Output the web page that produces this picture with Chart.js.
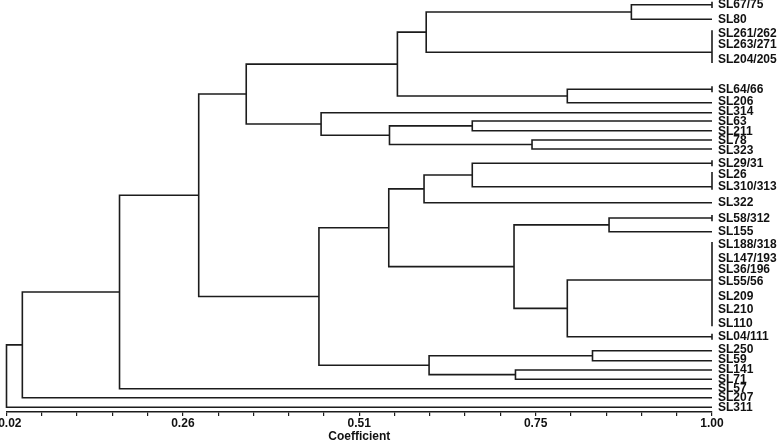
<!DOCTYPE html>
<html>
<head>
<meta charset="utf-8">
<script src="https://cdn.jsdelivr.net/npm/chart.js@4.4.1/dist/chart.umd.min.js"></script>
<style>
  html, body { margin: 0; padding: 0; background: #fff; }
  canvas { display: block; }
</style>
</head>
<body>
<canvas id="dendro" width="778" height="444"></canvas>
<script>
// Leaf labels, top to bottom, and the row each label sits on.
const leafLabels = ['SL67/75', 'SL80', 'SL261/262', 'SL263/271', 'SL204/205', 'SL64/66', 'SL206',
  'SL314', 'SL63', 'SL211', 'SL78', 'SL323', 'SL29/31', 'SL26', 'SL310/313', 'SL322', 'SL58/312',
  'SL155', 'SL188/318', 'SL147/193', 'SL36/196', 'SL55/56', 'SL209', 'SL210', 'SL110', 'SL04/111',
  'SL250', 'SL59', 'SL141', 'SL71', 'SL57', 'SL207', 'SL311'];
const leafRows = [0.5, 1.93, 3.33, 4.5, 6.0, 8.93, 10.2, 11.2, 12.15, 13.2, 14.1, 15.05, 16.33,
  17.5, 18.67, 20.3, 21.83, 23.17, 24.5, 25.83, 27.0, 28.17, 29.67, 31.0, 32.33, 33.67,
  35.0, 36.0, 36.95, 37.95, 38.9, 39.8, 40.8];

// Terminal branches: leaves sharing one branch (identical at 1.00), and the row of that branch.
const groupLeaves = [[0], [1], [2, 3, 4], [5], [6], [7], [8], [9], [10], [11], [12], [13, 14], [15],
  [16], [17], [18, 19, 20, 21, 22, 23, 24], [25], [26], [27], [28], [29], [30], [31], [32]];
const groupRows = [0.47, 1.93, 5.23, 8.93, 10.27, 11.27, 12.1, 13.07, 14.0, 14.9, 16.33, 18.67,
  20.27, 21.8, 23.17, 28.0, 33.67, 35.07, 36.07, 37.0, 37.93, 38.87, 39.77, 40.73];

// Merges: two children ('g' = terminal branch, 'm' = earlier merge) joined at a coefficient.
const merges = [
  ['g0', 'g1', 0.888],
  ['m0', 'g2', 0.603],
  ['g3', 'g4', 0.799],
  ['m1', 'm2', 0.563],
  ['g6', 'g7', 0.667],
  ['g8', 'g9', 0.750],
  ['m4', 'm5', 0.552],
  ['g5', 'm6', 0.457],
  ['m3', 'm7', 0.353],
  ['g10', 'g11', 0.667],
  ['m9', 'g12', 0.600],
  ['g13', 'g14', 0.857],
  ['g15', 'g16', 0.799],
  ['m11', 'm12', 0.725],
  ['m10', 'm13', 0.551],
  ['g17', 'g18', 0.834],
  ['g19', 'g20', 0.727],
  ['m15', 'm16', 0.607],
  ['m14', 'm17', 0.454],
  ['m8', 'm18', 0.287],
  ['m19', 'g21', 0.177],
  ['m20', 'g22', 0.042],
  ['m21', 'g23', 0.020]
];

const xTickLabels = ['0.02', '0.26', '0.51', '0.75', '1.00'];
const xMin = 0.02, xMax = 1.00, xStep = 0.049;

const ink = '#1c1c1c';
const font = { family: "'Liberation Sans', Arial, sans-serif", size: 12, weight: 'bold' };

function branch(points) {
  return { data: points, showLine: true, borderColor: ink, borderWidth: 1.6,
    pointRadius: 0, fill: false, clip: false, tension: 0 };
}

// Walk the merges: each node sits midway between its children.
const nodeRow = {}, nodeCoef = {};
groupRows.forEach((r, i) => { nodeRow['g' + i] = r; nodeCoef['g' + i] = xMax; });
const datasets = [];
merges.forEach(([a, b, c], i) => {
  const id = 'm' + i;
  nodeRow[id] = (nodeRow[a] + nodeRow[b]) / 2;
  nodeCoef[id] = c;
  datasets.push(branch([
    { x: nodeCoef[a], y: nodeRow[a] }, { x: c, y: nodeRow[a] },
    { x: c, y: nodeRow[b] }, { x: nodeCoef[b], y: nodeRow[b] }
  ]));
});

// Vertical bar at 1.00 for branches that stand for more than one accession.
groupLeaves.forEach((leaves, i) => {
  const merged = leaves.length > 1 || leafLabels[leaves[0]].includes('/');
  if (!merged) return;
  const rows = leaves.map(j => leafRows[j]).concat(groupRows[i]);
  datasets.push(branch([
    { x: xMax, y: Math.min(...rows) - 0.3 }, { x: xMax, y: Math.max(...rows) + 0.3 }
  ]));
});

new Chart(document.getElementById('dendro'), {
  type: 'scatter',
  data: { datasets },
  options: {
    responsive: false,
    animation: false,
    layout: { padding: { left: 6.5, right: 0, top: 0, bottom: 0 } },
    plugins: { legend: { display: false }, tooltip: { enabled: false } },
    scales: {
      x: {
        type: 'linear', min: xMin, max: xMax, bounds: 'data',
        afterBuildTicks: s => {
          s.ticks = Array.from({ length: 21 }, (_, k) => ({ value: +(xMin + k * xStep).toFixed(3) }));
        },
        afterFit: s => { s.height = 32; s.paddingLeft = 0; s.paddingRight = 0; },
        grid: { drawOnChartArea: false, drawTicks: true, tickLength: 4, color: ink, lineWidth: 1.2 },
        border: { color: ink, width: 1.4 },
        ticks: {
          autoSkip: false, maxRotation: 0, padding: 0, color: '#111', font,
          // leading spaces nudge the first label clear of the left edge
          callback: (v, i) => i % 5 ? '' : (i === 0 ? '  ' : '') + xTickLabels[i / 5]
        },
        title: { display: true, text: 'Coefficient', color: '#111', font, padding: { top: 0, bottom: 0 } }
      },
      y: {
        type: 'linear', position: 'right', reverse: true, min: 0, max: 41.2, bounds: 'data',
        afterBuildTicks: s => { s.ticks = leafRows.map(v => ({ value: v })); },
        afterFit: s => { s.width = 66; s.paddingTop = 0; s.paddingBottom = 0; },
        grid: { display: false, drawTicks: false },
        border: { display: false },
        ticks: { autoSkip: false, padding: 6, color: '#111', font, callback: (v, i) => leafLabels[i] }
      }
    }
  }
});
</script>
</body>
</html>
